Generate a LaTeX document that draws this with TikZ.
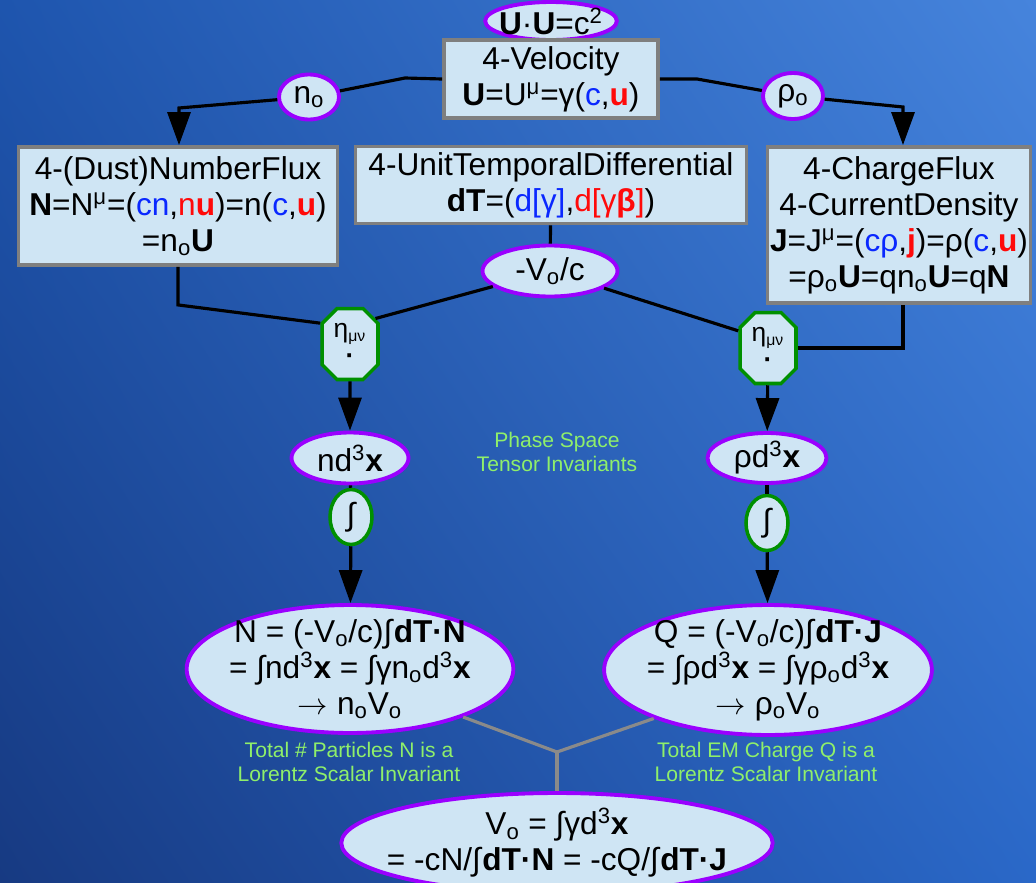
\documentclass[tikz,border=0pt]{standalone}
\usepackage{fontspec}
\setmainfont{Liberation Sans}
\usepackage{xcolor}
\usepackage{tikz}
\usetikzlibrary{arrows.meta,positioning,shapes.geometric,shapes.misc,shadings}
\definecolor{paper}{HTML}{CFE5F4}
\definecolor{frame}{HTML}{7F7F7F}
\definecolor{purp}{HTML}{9A00FF}
\definecolor{leaf}{HTML}{009000}
\definecolor{ublue}{HTML}{0A28FF}
\definecolor{ured}{HTML}{FF0A0A}
\definecolor{lime}{HTML}{8FEF6A}
\definecolor{ggray}{HTML}{8A8A8A}
\definecolor{bgA}{HTML}{1E55AE}
\definecolor{bgB}{HTML}{4684DC}
\definecolor{bgC}{HTML}{173A82}
\definecolor{bgD}{HTML}{2A68C8}
\tikzset{
  panel/.style={draw=frame,line width=2.2pt,fill=paper,align=center,inner sep=0pt},
  pill/.style={draw=purp,line width=2.2pt,fill=paper,ellipse,align=center,inner xsep=-3pt,inner ysep=0pt},
  bigpill/.style={pill,inner xsep=-3pt,inner ysep=-5pt},
  octa/.style={draw=leaf,line width=2pt,fill=paper,chamfered rectangle,chamfered rectangle xsep=0.13cm,
    chamfered rectangle ysep=0.17cm,minimum width=1.12cm,minimum height=1.42cm,inner sep=0pt,align=center,
    font=\fontsize{15}{15}\selectfont},
  intg/.style={draw=leaf,line width=2pt,fill=paper,ellipse,inner sep=0pt,minimum width=0.84cm,minimum height=1.1cm},
  flow/.style={-{Triangle[length=6.6mm,width=4.6mm]},line width=1.8pt,draw=black},
  link/.style={line width=1.8pt,draw=black},
  gline/.style={line width=1.8pt,draw=ggray},
  note/.style={text=lime,align=center,font=\fontsize{12}{13.2}\selectfont}
}
\newcommand{\sbo}{\textsubscript{o}}
\newcommand{\metric}{η\textsubscript{\fontsize{9}{9}\selectfont μν}}

\begin{document}
\begin{tikzpicture}[x=0.02cm,y=-0.02cm,font=\fontsize{18}{20.5}\selectfont]
  \shade[upper left=bgA,upper right=bgB,lower left=bgC,lower right=bgD] (0,0) rectangle (1036,883);
  \clip (0,0) rectangle (1036,883);
  % top row
  \node[pill,minimum width=2.56cm,minimum height=0.76cm] (uu) at (551,21) {\textbf{U}·\textbf{U}=c\textsuperscript{2}};
  \node[panel,minimum width=4.28cm,minimum height=1.56cm] (vel) at (551,79)
    {4-Velocity\\\textbf{U}=U\textsuperscript{μ}=γ(\textcolor{ublue}{c},\textcolor{ured}{\textbf{u}})};
  \node[pill,minimum width=1.2cm,minimum height=0.9cm] (no) at (309,97) {n\sbo};
  \node[pill,minimum width=1.2cm,minimum height=0.92cm] (rho) at (793,96) {ρ\sbo};
  \coordinate (tl) at (405,78);
  \coordinate (tr) at (697,79);
  \coordinate (kl) at (179,108);
  \coordinate (kr) at (903,107);
  % boxes
  \node[panel,minimum width=6.38cm,minimum height=2.36cm] (flux) at (178,206)
    {4-(Dust)NumberFlux\\\textbf{N}=N\textsuperscript{μ}=(\textcolor{ublue}{cn},\textcolor{ured}{n\textbf{u}})=n(\textcolor{ublue}{c},\textcolor{ured}{\textbf{u}})\\=n\sbo\textbf{U}};
  \node[panel,minimum width=7.82cm,minimum height=1.54cm] (dT) at (551,185)
    {4-UnitTemporalDifferential\\\textbf{dT}=(\textcolor{ublue}{d[γ]},\textcolor{ured}{d[γ\textbf{β}]})};
  \node[panel,minimum width=5.26cm,minimum height=3.12cm] (jay) at (899,225)
    {4-ChargeFlux\\4-CurrentDensity\\\textbf{J}=J\textsuperscript{μ}=(\textcolor{ublue}{cρ},\textcolor{ured}{\textbf{j}})=ρ(\textcolor{ublue}{c},\textcolor{ured}{\textbf{u}})\\=ρ\sbo\textbf{U}=qn\sbo\textbf{U}=q\textbf{N}};
  \node[pill,minimum width=2.7cm,minimum height=1.02cm] (vo) at (550,271) {-V\sbo/c};
  % metric
  \node[octa] (etaL) at (350,344) {\metric\\\textbf{·}};
  \node[octa] (etaR) at (768,348) {\metric\\\textbf{·}};
  \node[pill,minimum width=2.34cm,minimum height=1.02cm] (ndx) at (350,458) {nd\textsuperscript{3}\textbf{x}};
  \node[pill,minimum width=2.38cm,minimum height=1.0cm] (rdx) at (767,458) {ρd\textsuperscript{3}\textbf{x}};
  \node[intg] (intL) at (351,517) {∫};
  \node[intg] (intR) at (767,523) {∫};
  \node[note] (phase) at (557,452) {Phase Space\\Tensor Invariants};
  % totals
  \node[bigpill,minimum width=6.5cm,minimum height=2.56cm] (totN) at (350,669)
    {N = (-V\sbo/c)∫\textbf{dT·N}\\= ∫nd\textsuperscript{3}\textbf{x} = ∫γn\sbo d\textsuperscript{3}\textbf{x}\\$\rightarrow$ n\sbo V\sbo};
  \node[bigpill,minimum width=6.2cm,minimum height=2.6cm] (totQ) at (768,670)
    {Q = (-V\sbo/c)∫\textbf{dT·J}\\= ∫ρd\textsuperscript{3}\textbf{x} = ∫γρ\sbo d\textsuperscript{3}\textbf{x}\\$\rightarrow$ ρ\sbo V\sbo};
  \node[note] (noteN) at (349,762) {Total \# Particles N is a\\Lorentz Scalar Invariant};
  \node[note] (noteQ) at (766,762) {Total EM Charge Q is a\\Lorentz Scalar Invariant};
  \coordinate (jn) at (557,752);
  \node[bigpill,inner xsep=-10pt,minimum width=8.48cm,minimum height=2.0cm] (vol) at (557,843)
    {V\sbo{} = ∫γd\textsuperscript{3}\textbf{x}\\= -cN/∫\textbf{dT·N} = -cQ/∫\textbf{dT·J}};
  % connectors
  \draw[link] (vel.west) -- (tl) -- (no);
  \draw[flow] (no) -- (kl) -- (kl |- flux.north);
  \draw[link] (vel.east) -- (tr) -- (rho);
  \draw[flow] (rho) -- (kr) -- (kr |- jay.north);
  \draw[link] (dT) -- (vo);
  \draw[link] (vo) -- (etaL.45);
  \draw[link] (vo) -- (etaR.150);
  \draw[link] (flux.south) -- ++(0,38) -- (etaL.145);
  \draw[link] (kr |- jay.south) |- (etaR.east);
  \draw[flow] (etaL) -- (ndx);
  \draw[flow] (etaR) -- (rdx);
  \draw[link] (ndx) -- (intL);
  \draw[link] (rdx) -- (intR);
  \draw[flow] (intL) -- (totN);
  \draw[flow] (intR) -- (totQ);
  \draw[gline] (totN.-23) -- (jn) -- (totQ.203);
  \draw[gline] (jn) -- (vol);
\end{tikzpicture}
\end{document}
